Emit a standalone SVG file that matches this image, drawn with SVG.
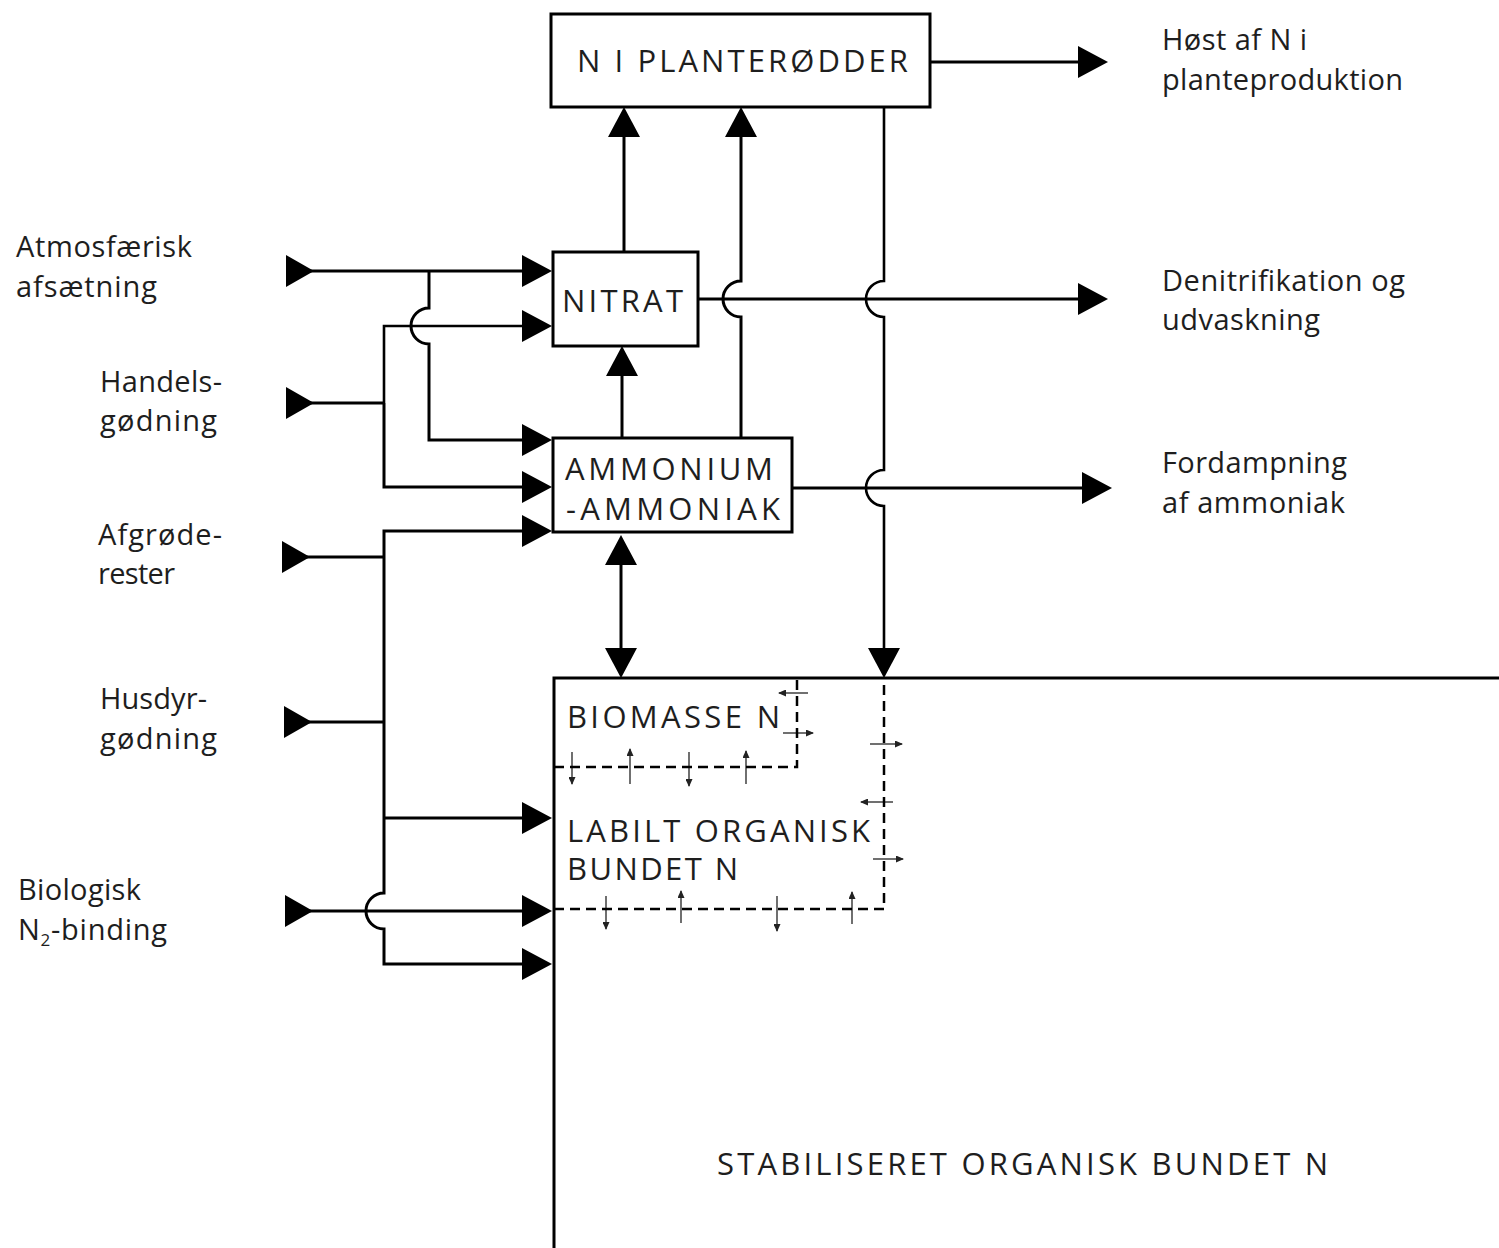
<svg xmlns="http://www.w3.org/2000/svg" width="1499" height="1248" viewBox="0 0 1499 1248">
<style>
text{font-family:"Open Sans","DejaVu Sans",sans-serif;fill:#1e1e1e}
.lbl{font-size:29px}
.cap{font-size:31px}
.box{fill:#fff;stroke:#000;stroke-width:3}
.ln{fill:none;stroke:#000;stroke-width:3}
.ln2{fill:none;stroke:#000;stroke-width:2.6}
.dash{fill:none;stroke:#000;stroke-width:2.5;stroke-dasharray:10 6}
.sm{fill:none;stroke:#333;stroke-width:1.4}
</style>
<defs>
<marker id="ah" markerUnits="userSpaceOnUse" markerWidth="30" markerHeight="32" viewBox="0 0 30 32" refX="26" refY="16" orient="auto-start-reverse"><path d="M0,0 L30,16 L0,32 z" fill="#000"/></marker>
<marker id="as" markerUnits="userSpaceOnUse" markerWidth="28" markerHeight="32" viewBox="0 0 28 32" refX="0" refY="16" orient="auto"><path d="M0,0 L28,16 L0,32 z" fill="#000"/></marker>
<marker id="sa" markerUnits="userSpaceOnUse" markerWidth="8" markerHeight="7" viewBox="0 0 8 7" refX="7" refY="3.5" orient="auto"><path d="M0,0 L8,3.5 L0,7 z" fill="#222"/></marker>
</defs>

<g id="connectors">
<path class="ln" d="M930,62 H1104" marker-end="url(#ah)"/>
<path class="ln" d="M698,299 H1104" marker-end="url(#ah)"/>
<path class="ln" d="M793,488 H1108" marker-end="url(#ah)"/>
<path class="ln" d="M624,251 V111" marker-end="url(#ah)"/>
<path class="ln" d="M741,438 V317 A18,18 0 0 1 741,281 V111" marker-end="url(#ah)"/>
<path class="ln2" d="M884,107 V281 A18,18 0 0 0 884,317 V470 A18,18 0 0 0 884,506 V674" marker-end="url(#ah)"/>
<path class="ln" d="M622,438 V350" marker-end="url(#ah)"/>
<path class="ln" d="M621,539 V674" marker-start="url(#ah)" marker-end="url(#ah)"/>
<path class="ln" d="M286,271 H548" marker-start="url(#as)" marker-end="url(#ah)"/>
<path class="ln" d="M429,271 V308 A18,18 0 0 0 429,344 V440 H548" marker-end="url(#ah)"/>
<path class="ln" d="M286,403 H384"  marker-start="url(#as)"/>
<path class="ln2" d="M384,403 V326 H548" marker-end="url(#ah)"/>
<path class="ln" d="M384,403 V487 H548" marker-end="url(#ah)"/>
<path class="ln" d="M282,557 H384" marker-start="url(#as)"/>
<path class="ln" d="M384,557 V531 H548" marker-end="url(#ah)"/>
<path class="ln" d="M284,722 H384" marker-start="url(#as)"/>
<path class="ln" d="M384,557 V893 A18,18 0 0 0 384,929 V964 H548" marker-end="url(#ah)"/>
<path class="ln" d="M384,818 H548" marker-end="url(#ah)"/>
<path class="ln" d="M285,911 H548" marker-start="url(#as)" marker-end="url(#ah)"/>
<path class="sm" d="M572,752 V784" marker-end="url(#sa)"/>
<path class="sm" d="M630,784 V749" marker-end="url(#sa)"/>
<path class="sm" d="M689,752 V786" marker-end="url(#sa)"/>
<path class="sm" d="M746,784 V751" marker-end="url(#sa)"/>
<path class="sm" d="M808,693 H779" marker-end="url(#sa)"/>
<path class="sm" d="M783,733 H813" marker-end="url(#sa)"/>
<path class="sm" d="M870,744 H902" marker-end="url(#sa)"/>
<path class="sm" d="M893,802 H861" marker-end="url(#sa)"/>
<path class="sm" d="M873,859 H903" marker-end="url(#sa)"/>
<path class="sm" d="M606,896 V929" marker-end="url(#sa)"/>
<path class="sm" d="M681,923 V891" marker-end="url(#sa)"/>
<path class="sm" d="M777,896 V931" marker-end="url(#sa)"/>
<path class="sm" d="M852,924 V892" marker-end="url(#sa)"/>
</g>

<g id="plantenodder">
<rect class="box" x="551" y="14" width="379" height="93"/>
<text class="cap" x="577" y="72" textLength="331" lengthAdjust="spacing">N I PLANTERØDDER</text>
</g>
<g id="nitrat">
<rect class="box" x="553" y="252" width="145" height="94"/>
<text class="cap" x="562" y="312" textLength="121" lengthAdjust="spacing">NITRAT</text>
</g>
<g id="ammonium">
<rect class="box" x="553" y="438" width="239" height="94"/>
<text class="cap" x="565" y="480" textLength="208" lengthAdjust="spacing">AMMONIUM</text>
<text class="cap" x="566" y="520" textLength="214" lengthAdjust="spacing">-AMMONIAK</text>
</g>
<g id="stabiliseret">
<path class="ln" d="M554,1248 V678 H1499"/>
<text class="cap" x="717" y="1175" textLength="611" lengthAdjust="spacing">STABILISERET ORGANISK BUNDET N</text>
</g>
<g id="labilt">
<path class="dash" d="M554,909 H884 V678"/>
<text class="cap" x="567" y="842" textLength="303" lengthAdjust="spacing">LABILT ORGANISK</text>
<text class="cap" x="567" y="880" textLength="171" lengthAdjust="spacing">BUNDET N</text>
</g>
<g id="biomasse">
<path class="dash" d="M554,767 H797 V678"/>
<text class="cap" x="567" y="728" textLength="213" lengthAdjust="spacing">BIOMASSE N</text>
</g>

<g id="inputs">
<text class="lbl" x="16" y="257" textLength="176" lengthAdjust="spacing">Atmosfærisk</text>
<text class="lbl" x="16" y="297" textLength="141" lengthAdjust="spacing">afsætning</text>
<text class="lbl" x="100" y="392" textLength="122" lengthAdjust="spacing">Handels-</text>
<text class="lbl" x="100" y="431" textLength="117" lengthAdjust="spacing">gødning</text>
<text class="lbl" x="98" y="545" textLength="124" lengthAdjust="spacing">Afgrøde-</text>
<text class="lbl" x="98" y="584" textLength="77" lengthAdjust="spacing">rester</text>
<text class="lbl" x="100" y="709" textLength="107" lengthAdjust="spacing">Husdyr-</text>
<text class="lbl" x="100" y="749" textLength="117" lengthAdjust="spacing">gødning</text>
<text class="lbl" x="18" y="900" textLength="123" lengthAdjust="spacing">Biologisk</text>
<text class="lbl" x="18" y="940" textLength="149" lengthAdjust="spacing">N<tspan font-size="17" dy="6">2</tspan><tspan dy="-6">-binding</tspan></text>
</g>
<g id="outputs">
<text class="lbl" x="1162" y="50" textLength="145" lengthAdjust="spacing">Høst af N i</text>
<text class="lbl" x="1162" y="90" textLength="241" lengthAdjust="spacing">planteproduktion</text>
<text class="lbl" x="1162" y="291" textLength="243" lengthAdjust="spacing">Denitrifikation og</text>
<text class="lbl" x="1162" y="330" textLength="158" lengthAdjust="spacing">udvaskning</text>
<text class="lbl" x="1162" y="473" textLength="185" lengthAdjust="spacing">Fordampning</text>
<text class="lbl" x="1162" y="513" textLength="183" lengthAdjust="spacing">af ammoniak</text>
</g>
</svg>
